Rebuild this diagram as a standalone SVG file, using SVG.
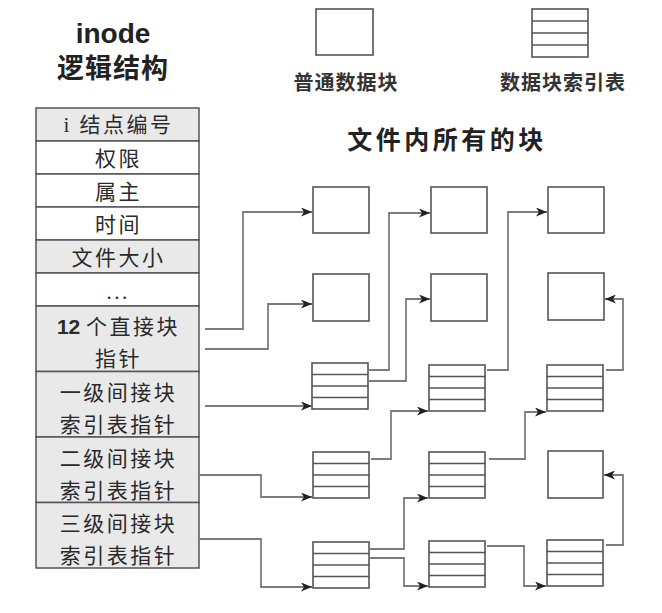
<svg xmlns="http://www.w3.org/2000/svg" width="662" height="613" viewBox="0 0 662 613">
<style>
.cell{stroke:#555;stroke-width:1.5}
.g{fill:#e9e9e9}
.w{fill:#fff}
.t{font-family:"Liberation Serif","Noto Sans CJK SC",serif;font-size:21px;fill:#2a2a2a;text-anchor:middle;letter-spacing:2.5px}
.blk{fill:#fff;stroke:#555;stroke-width:1.6}
.ln{stroke:#555;stroke-width:1.3}
.con{fill:none;stroke:#7c7c7c;stroke-width:1.8}
.lab{font-family:"Noto Sans CJK SC",sans-serif;font-size:20px;fill:#333;text-anchor:middle;letter-spacing:1px;font-weight:bold}
</style>
<defs>
<marker id="ah" viewBox="0 0 11 9" refX="11" refY="4.5" markerWidth="11" markerHeight="9" markerUnits="userSpaceOnUse" orient="auto">
<path d="M0,0 L11,4.5 L0,9 L3,4.5 Z" fill="#222"/>
</marker>
<g id="tbl">
<rect x="0" y="0" width="56" height="46" class="blk"/>
<line x1="0" y1="11.5" x2="56" y2="11.5" class="ln"/>
<line x1="0" y1="23" x2="56" y2="23" class="ln"/>
<line x1="0" y1="34.5" x2="56" y2="34.5" class="ln"/>
</g>
</defs>
<rect width="662" height="613" fill="#fff"/>

<g id="title">
<text x="113" y="43" font-family="Liberation Sans,Arial,sans-serif" font-size="28" font-weight="bold" fill="#222" text-anchor="middle">inode</text>
<text x="113" y="78" font-family="Noto Sans CJK SC,sans-serif" font-size="27" font-weight="bold" fill="#222" text-anchor="middle" letter-spacing="1">逻辑结构</text>
</g>

<g id="legend-plain">
<rect x="316" y="9" width="57" height="46" class="blk"/>
<text x="346" y="90" class="lab">普通数据块</text>
</g>
<g id="legend-index">
<rect x="532" y="9" width="56" height="48" class="blk"/>
<line x1="532" y1="21" x2="588" y2="21" class="ln"/>
<line x1="532" y1="33" x2="588" y2="33" class="ln"/>
<line x1="532" y1="45" x2="588" y2="45" class="ln"/>
<text x="563" y="90" class="lab">数据块索引表</text>
</g>
<g id="blocks-title">
<text x="447" y="149" font-family="Noto Sans CJK SC,sans-serif" font-size="25" font-weight="bold" fill="#222" text-anchor="middle" letter-spacing="3.5">文件内所有的块</text>
</g>

<g id="inode">
<rect x="36" y="108" width="163" height="33" class="cell g"/>
<rect x="36" y="141" width="163" height="33" class="cell w"/>
<rect x="36" y="174" width="163" height="33" class="cell w"/>
<rect x="36" y="207" width="163" height="33" class="cell w"/>
<rect x="36" y="240" width="163" height="33" class="cell g"/>
<rect x="36" y="273" width="163" height="33" class="cell w"/>
<rect x="36" y="306" width="163" height="65.5" class="cell g"/>
<rect x="36" y="371.5" width="163" height="65.5" class="cell g"/>
<rect x="36" y="437" width="163" height="65.5" class="cell g"/>
<rect x="36" y="502.5" width="163" height="65.5" class="cell g"/>
<text x="118.5" y="132" class="t">i 结点编号</text>
<text x="118.5" y="166" class="t">权限</text>
<text x="118.5" y="199" class="t">属主</text>
<text x="118.5" y="232" class="t">时间</text>
<text x="118.5" y="265" class="t">文件大小</text>
<text x="118" y="299" class="t" letter-spacing="0" font-size="17">...</text>
<text x="118.5" y="334" class="t"><tspan font-family="Liberation Sans,sans-serif" font-weight="bold" letter-spacing="0">12 </tspan>个直接块</text>
<text x="118.5" y="366" class="t">指针</text>
<text x="118.5" y="400" class="t">一级间接块</text>
<text x="118.5" y="432" class="t">索引表指针</text>
<text x="118.5" y="466" class="t">二级间接块</text>
<text x="118.5" y="498" class="t">索引表指针</text>
<text x="118.5" y="531" class="t">三级间接块</text>
<text x="118.5" y="563" class="t">索引表指针</text>
</g>

<g id="b11"><rect x="313" y="187" width="56" height="46" class="blk"/></g>
<g id="b12"><rect x="313" y="274" width="56" height="47" class="blk"/></g>
<g id="t13"><use href="#tbl" x="312" y="363"/></g>
<g id="t14"><use href="#tbl" x="313" y="452"/></g>
<g id="t15"><use href="#tbl" x="313" y="542"/></g>

<g id="b21"><rect x="431" y="187" width="56" height="46" class="blk"/></g>
<g id="b22"><rect x="431" y="274" width="56" height="47" class="blk"/></g>
<g id="t23"><use href="#tbl" x="429" y="365"/></g>
<g id="t24"><use href="#tbl" x="429" y="452"/></g>
<g id="t25"><use href="#tbl" x="429" y="541"/></g>

<g id="b31"><rect x="548" y="187" width="56" height="46" class="blk"/></g>
<g id="b32"><rect x="548" y="273" width="56" height="47" class="blk"/></g>
<g id="t33"><use href="#tbl" x="547" y="365"/></g>
<g id="b34"><rect x="548" y="451" width="55" height="47" class="blk"/></g>
<g id="t35"><use href="#tbl" x="547" y="540"/></g>

<g id="connectors">
<path d="M205,329 H243 V212 H312" class="con" marker-end="url(#ah)"/>
<path d="M205,349 H268 V304 H312" class="con" marker-end="url(#ah)"/>
<path d="M205,406 H312" class="con" marker-end="url(#ah)"/>
<path d="M199,475 H261 V497 H312" class="con" marker-end="url(#ah)"/>
<path d="M199,539 H261 V587 H312" class="con" marker-end="url(#ah)"/>
<path d="M369,370 H389 V213 H430" class="con" marker-end="url(#ah)"/>
<path d="M369,381 H406 V299 H430" class="con" marker-end="url(#ah)"/>
<path d="M371,459 H391 V411 H428" class="con" marker-end="url(#ah)"/>
<path d="M369,549 H404 V498 H428" class="con" marker-end="url(#ah)"/>
<path d="M369,558 H404 V586 H428" class="con" marker-end="url(#ah)"/>
<path d="M487,370 H508 V212 H547" class="con" marker-end="url(#ah)"/>
<path d="M489,459 H525 V412 H546" class="con" marker-end="url(#ah)"/>
<path d="M487,546 H524 V586 H546" class="con" marker-end="url(#ah)"/>
<path d="M606,370 H623 V299 H605" class="con" marker-end="url(#ah)"/>
<path d="M606,545 H623 V475 H604" class="con" marker-end="url(#ah)"/>
</g>
</svg>
